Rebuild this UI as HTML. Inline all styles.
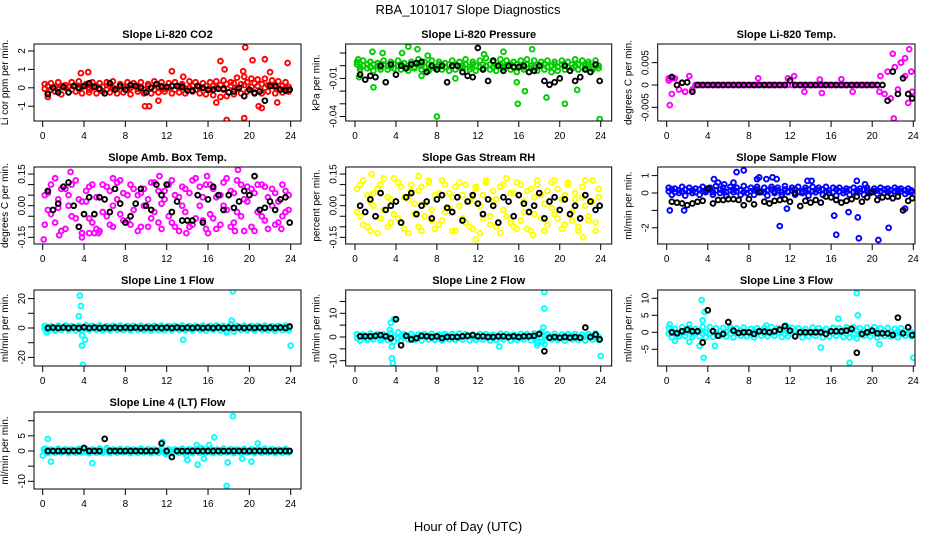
<!DOCTYPE html>
<html><head><meta charset="utf-8"><title>RBA_101017 Slope Diagnostics</title>
<style>
html,body{margin:0;padding:0;background:#fff;}
svg{display:block;font-family:"Liberation Sans",Arial,sans-serif;}
</style></head>
<body>
<svg id="chart" width="936" height="540" viewBox="0 0 936 540" xmlns="http://www.w3.org/2000/svg">
<rect x="0" y="0" width="936" height="540" fill="#fff"/>
<text x="468" y="14" font-size="13" text-anchor="middle">RBA_101017  Slope Diagnostics</text>
<text x="468" y="531" font-size="13" text-anchor="middle">Hour of Day (UTC)</text>
</svg>
<script>
const hoursColor=[0.2,0.5,0.8,1.2,1.5,1.8,2.2,2.5,2.8,3.2,3.5,3.8,4.2,4.5,4.8,5.2,5.5,5.8,6.2,6.5,6.8,7.2,7.5,7.8,8.2,8.5,8.8,9.2,9.5,9.8,10.2,10.5,10.8,11.2,11.5,11.8,12.2,12.5,12.8,13.2,13.5,13.8,14.2,14.5,14.8,15.2,15.5,15.8,16.2,16.5,16.8,17.2,17.5,17.8,18.2,18.5,18.8,19.2,19.5,19.8,20.2,20.5,20.8,21.2,21.5,21.8,22.2,22.5,22.8,23.2,23.5,23.8];
const hoursBlack=[0.5,1,1.5,2,2.5,3,3.5,4,4.5,5,5.5,6,6.5,7,7.5,8,8.5,9,9.5,10,10.5,11,11.5,12,12.5,13,13.5,14,14.5,15,15.5,16,16.5,17,17.5,18,18.5,19,19.5,20,20.5,21,21.5,22,22.5,23,23.5,23.9];
const xTicks=[0,4,8,12,16,20,24];

// Panel 1: CO2
const co2Vals=[0.2,-0.3,0.25,-0.2,0.3,-0.35,0.15,-0.25,0.3,-0.2,0.35,-0.3,0.2,-0.25,0.3,-0.3,0.25,-0.2,0.3,-0.25,0.35,-0.3,0.2,-0.25,0.3,-0.35,0.25,-0.2,0.3,-0.3,0.2,-0.3,0.35,-0.25,0.3,-0.2,0.25,-0.3,0.3,-0.25,0.2,-0.3,0.35,-0.2,0.3,-0.3,0.25,-0.35,0.3,-0.4,0.35,-0.5,0.4,-0.45,0.3,-0.35,0.55,-0.3,0.6,-0.2,0.5,-0.25,0.45,-0.3,0.5,-0.2,0.4,-0.3,0.35,-0.25,0.3,-0.2];
const co2ValsB=[-0.05,0.1,-0.1,0.05,-0.1,0.1,0.0,0.05,-0.1,0.1,-0.05,0.05,0.1,-0.1,0.0,0.1,-0.05,0.05,-0.1,0.1,0.0,-0.05,0.1,0.05,-0.1,0.0,0.1,-0.05,0.05,-0.1,0.1,0.0,-0.1,0.05,0.1,-0.05,0.0,0.1,-0.1,0.05,0.1,-0.05,0.0,0.1,-0.1,0.05,0.0,0.1,-0.1,0.1,0.0,0.15,-0.1,0.2,0.1,0.25,-0.05,0.2,0.15,0.3,0.05,0.25,0.1,0.2,0.0,0.15,0.1,0.05,-0.05,0.1,0.0,0.05];
const co2OutHours=[0.5,3.7,4.4,9.9,10.3,11.2,12.5,13.6,16.8,17.2,17.6,17.8,19.4,19.5,19.6,20.3,20.9,21.2,21.5,22,22.7,23.7];
const co2OutVals=[-0.5,0.8,0.85,-1,-1,-0.7,0.9,0.6,-0.8,1.45,1.0,-1.75,0.9,-1.65,2.2,1.5,-1.0,-1.1,1.55,0.85,-0.8,1.35];
const co2Black=[-0.35,0,-0.25,0.05,-0.25,0.1,0,0.1,0.25,0.05,-0.05,-0.3,0.25,-0.1,0.1,-0.1,0.15,0.1,0,-0.25,0,0.2,0.05,0.05,0.1,0.1,0.05,-0.15,-0.15,0.1,0,-0.1,-0.1,-0.05,-0.05,-0.25,-0.2,0,-0.45,-0.1,-0.3,-0.2,-0.7,0.1,0.1,-0.1,-0.15,-0.1];

// Panel 2: Pressure
const presVals=[0.003,-0.003,0.004,-0.002,0.003,-0.004,0.002,-0.003,0.004,-0.003,0.003,-0.002,0.004,-0.003,0.002,-0.004,0.003,-0.002,0.005,-0.003,0.003,-0.004,0.004,-0.002,0.003,-0.003,0.002,-0.004,0.004,-0.003,0.003,-0.002,0.005,-0.003,0.003,-0.004,0.004,-0.002,0.006,-0.003,0.003,-0.004,0.005,-0.002,0.004,-0.003,0.003,-0.005,0.004,-0.003,0.005,-0.002,0.004,-0.004,0.003,-0.003,0.004,-0.005,0.003,-0.004,0.004,-0.003,0.003,-0.002,0.005,-0.003,0.004,-0.002,0.003,-0.003,0.004,-0.002];
const presValsB=[0.001,-0.001,0.0,0.001,-0.001,0.001,0.0,-0.001,0.001,0.0,-0.001,0.001,0.0,0.001,-0.001,0.0,0.001,-0.001,0.001,0.0,-0.001,0.001,0.0,-0.001,0.001,0.0,-0.001,0.001,0.0,0.001,-0.001,0.0,0.001,-0.001,0.001,0.0,-0.001,0.001,0.0,0.001,-0.001,0.0,0.001,-0.001,0.0,0.001,-0.001,0.001,0.0,-0.001,0.001,0.0,-0.001,0.001,0.0,0.001,-0.001,0.0,0.001,-0.001,0.001,0.0,-0.001,0.001,0.0,0.001,-0.001,0.0,0.001,-0.001,0.001,0.0];
const presOutHours=[0.3,0.4,1.7,1.8,2.7,4.6,5.2,6.1,6.5,7.1,8,9.8,12.6,14.5,15.8,15.9,16.6,17.3,18.7,20.5,21.7,23.9];
const presOutVals=[0.005,-0.009,0.011,-0.017,0.010,0.010,0.015,0.013,-0.008,0.008,-0.040,-0.010,0.009,0.011,-0.013,-0.030,-0.020,0.013,-0.025,-0.030,-0.019,-0.042];
const presBlack=[-0.007,-0.011,-0.008,-0.009,0,-0.013,0.001,-0.007,0,-0.002,0.001,0.002,0.003,-0.005,0,-0.003,0,-0.013,0,0,-0.005,-0.008,-0.009,0.014,-0.003,-0.012,0.004,0,-0.004,0,-0.001,-0.001,0,-0.005,-0.004,0,-0.012,-0.015,-0.013,-0.010,0,-0.004,-0.012,-0.009,-0.003,-0.005,0.001,-0.012];

// Panel 3: Li-820 Temp
const tempVals=[0.001,-0.002,0.0015,-0.001,0.0005,-0.0015,0.002,-0.001,0,0,0,0,0,0,0,0,0,0,0,0,0,0,0,0,0,0,0,0,0,0,0,0,0,0,0,0,0,0,0,0,0,0,0,0,0,0,0,0,0,0,0,0,0,0,0,0,0,0,0,0,0,0,0.002,-0.002,0.003,-0.003,0.004,-0.001,0.005,0.002,-0.004,0.003];
const tempOutHours=[0.2,0.3,0.6,1.8,8.9,11.8,12.4,13.4,14.9,15.1,17,18.1,20.7,22,22.1,22.8,23.2,23.6,23.9];
const tempOutVals=[0.0015,-0.0045,0.0015,-0.0015,0.0015,0.0015,0.002,-0.0015,0.0012,-0.0018,0.0013,-0.0015,-0.0015,0.007,-0.0075,0.005,0.006,0.008,-0.0015];
const tempBlack=[0.0018,0,0.0005,0.0006,-0.0015,0,0,0,0,0,0,0,0,0,0,0,0,0,0,0,0,0,0,0.001,0,0,0,0,0,0,0,0,0,0,0,0,0,0,0,0,0,0,-0.0035,0.003,-0.002,0.0015,-0.002,-0.003];

// Panel 4: Amb Box Temp
const ambVals=[0.05,-0.02,0.1,-0.08,0.03,-0.12,0.08,0.0,-0.05,0.12,-0.1,0.02,0.07,-0.06,0.1,-0.11,0.04,-0.03,0.09,-0.09,0.0,0.11,-0.04,0.06,-0.07,0.1,-0.02,0.05,-0.1,0.08,0.03,-0.06,0.11,-0.08,0.01,0.07,-0.05,0.12,-0.1,0.04,0.09,-0.03,0.06,-0.09,0.13,0.0,-0.07,0.1,-0.04,0.08,-0.11,0.05,0.11,-0.02,0.07,-0.08,0.12,-0.05,0.03,0.09,-0.1,0.06,-0.03,0.1,-0.07,0.04,0.08,-0.09,0.02,-0.05,0.07,-0.02];
const ambValsB=[-0.09,0.06,-0.04,0.13,-0.01,0.08,-0.11,0.05,0.1,-0.06,0.03,-0.13,0.02,0.09,-0.08,0.04,-0.12,0.1,-0.05,0.07,-0.1,0.03,0.12,-0.07,0.05,-0.09,0.08,-0.12,0.06,0.0,-0.1,0.11,-0.03,0.07,-0.11,0.03,0.1,-0.08,0.05,-0.12,0.0,0.08,-0.1,0.12,-0.06,0.09,0.04,-0.11,0.1,-0.06,0.04,-0.09,0.0,0.13,-0.1,0.06,-0.03,0.1,-0.12,0.02,0.08,-0.12,0.1,-0.05,0.09,-0.11,0.0,0.06,-0.08,0.1,-0.03,0.05];
const ambOutHours=[0.1,1.6,2.7,3.8,3.8,4.5,5,5.4,6.8,11.3,13.9,15.9,16,18.6,18.9,23.1];
const ambOutVals=[-0.16,-0.14,0.16,-0.13,-0.15,-0.13,-0.13,-0.13,0.13,0.14,-0.13,0.14,-0.13,-0.12,0.17,-0.11];
const ambBlack=[0.07,-0.02,0.01,0.09,0.11,0.0,-0.1,-0.04,0.04,-0.04,0.04,0.03,-0.03,0.08,0.01,-0.08,-0.05,0.01,0.08,0.0,-0.02,0.1,0.05,0.1,-0.03,0.02,-0.07,-0.07,-0.07,0.05,-0.08,0.03,0.09,0.05,-0.02,0.05,-0.01,0.02,0.07,0.05,0.14,-0.02,-0.01,0.02,-0.02,0.03,0.04,-0.08];

// Panel 5: Gas Stream RH
const rhVals=[0.08,-0.05,0.12,-0.1,0.02,0.06,-0.13,0.1,-0.02,0.04,-0.08,0.13,-0.06,0.09,-0.11,0.03,0.1,-0.04,0.07,-0.12,0.01,0.11,-0.07,0.05,-0.09,0.12,-0.03,0.06,-0.12,0.09,0.0,-0.06,0.1,-0.1,0.04,0.08,-0.13,0.05,0.11,-0.05,0.02,-0.1,0.09,-0.02,0.13,-0.08,0.06,-0.11,0.1,-0.03,0.07,-0.12,0.04,0.12,-0.06,0.01,-0.09,0.11,-0.04,0.08,-0.11,0.05,0.1,-0.07,0.03,-0.12,0.09,0.0,-0.05,0.12,-0.08,0.04];
const rhValsB=[-0.03,0.1,-0.09,0.05,-0.12,0.0,0.08,-0.06,0.13,-0.1,0.03,-0.04,0.11,-0.08,0.04,-0.13,0.07,0.01,-0.1,0.09,-0.05,0.12,-0.02,-0.11,0.06,-0.07,0.1,-0.01,0.04,-0.12,0.11,0.05,-0.08,0.02,-0.11,0.09,0.0,-0.06,0.12,-0.09,0.07,0.03,-0.13,0.1,-0.05,0.06,-0.1,0.11,-0.07,0.02,-0.11,0.08,-0.04,0.1,0.05,-0.12,0.07,-0.01,0.12,-0.06,0.03,-0.09,0.11,-0.03,0.06,-0.1,0.04,0.12,-0.07,0.02,-0.12,0.08];
const rhOutHours=[1.6,6.2,11.8,17.4,22.3];
const rhOutVals=[0.15,0.14,-0.16,-0.14,-0.15];
const rhBlack=[0.0,-0.03,0.03,-0.05,0.06,-0.02,0.0,0.02,-0.08,0.04,0.06,-0.04,0.0,0.02,-0.06,0.03,0.05,-0.01,-0.03,0.04,-0.07,0.02,0.05,0.01,-0.04,0.03,0.0,-0.08,0.04,0.02,-0.05,0.05,0.01,-0.03,0.0,0.06,-0.06,0.02,0.04,-0.02,0.03,-0.04,0.0,-0.06,0.05,0.02,-0.02,0.0];

// Panel 6: Sample Flow
const sfVals=[0.3,-0.1,0.25,0.0,0.35,-0.15,0.3,0.0,0.25,-0.1,0.35,0.05,0.3,-0.1,0.4,0.0,0.3,-0.15,0.35,0.05,0.3,-0.1,0.4,0.0,0.3,-0.1,0.35,0.05,0.3,-0.15,0.35,0.0,0.3,-0.1,0.4,0.05,0.3,-0.1,0.35,0.0,0.3,-0.15,0.35,0.05,0.3,-0.1,0.35,0.0,0.3,-0.15,0.3,0.0,0.25,-0.1,0.3,0.05,0.25,-0.1,0.3,0.0,0.25,-0.05,0.3,0.0,0.25,-0.05,0.3,0.05,0.25,-0.05,0.25,0.05];
const sfValsB=[0.1,0.2,0.05,0.15,0.1,0.2,0.1,0.15,0.05,0.2,0.1,0.15,0.2,0.05,0.15,0.2,0.1,0.05,0.15,0.2,0.1,0.15,0.05,0.2,0.1,0.15,0.2,0.1,0.05,0.15,0.2,0.1,0.15,0.05,0.2,0.1,0.15,0.2,0.05,0.1,0.15,0.2,0.1,0.05,0.15,0.2,0.1,0.15,0.05,0.2,0.1,0.15,0.1,0.2,0.05,0.15,0.1,0.2,0.15,0.05,0.1,0.15,0.1,0.2,0.05,0.15,0.1,0.2,0.1,0.15,0.05,0.15];
const sfOutHours=[0.3,1.7,4.6,5,5.6,6.5,6.8,7.5,8.8,9,9.7,10.3,10.7,11,11.7,13.7,14.1,16.3,16.5,17.7,18.5,18.6,18.7,19.3,20.6,21.6,23.2];
const sfOutVals=[-1,-1,0.8,0.6,0.5,0.6,1.2,1.3,0.8,0.9,0.8,0.9,0.8,-1.9,-0.9,0.7,0.7,-1.3,-2.4,-1.1,0.7,-1.4,-2.6,0.5,-2.7,-2,-0.9];
const sfBlack=[-0.5,-0.55,-0.6,-0.7,-0.6,-0.5,-0.45,0.25,-0.6,-0.4,-0.4,-0.35,-0.35,-0.4,-0.7,-0.35,-0.65,0.05,-0.5,-0.6,-0.45,-0.4,-0.35,-0.5,0.0,-0.75,-0.45,-0.55,-0.4,-0.55,-0.2,-0.25,-0.4,-0.55,-0.45,-0.35,-0.2,-0.5,-0.25,0.05,-0.4,-0.25,-0.2,-0.3,-0.2,-1.0,-0.45,-0.3];

// Panel 7: Line 1 Flow
const l1Vals=[1.5,-1.5,1.2,-1.8,1.6,-1.2,1.8,-1.5,1.3,-1.6,1.5,-2,2,-1.4,1.5,-1.2,1.6,-1.5,1.2,-1.6,1.5,-1.3,1.7,-1.5,1.4,-1.6,1.5,-1.2,1.6,-1.5,1.3,-1.7,1.5,-1.4,1.6,-1.5,1.2,-1.6,1.5,-1.3,1.8,-1.5,1.4,-1.6,1.5,-1.2,1.6,-1.8,1.5,-1.3,1.7,-1.5,1.4,-2,2.5,-2.5,1.5,-1.3,1.6,-1.5,1.4,-1.6,1.5,-1.2,1.6,-1.5,1.3,-1.7,1.5,-1.4,1.6,-1.5];
const l1ValsB=[-0.5,0.5,0,-0.5,0.5,0,0.5,-0.5,0,0.5,-0.5,0,-0.5,0.5,0,0.5,-0.5,0,-0.5,0.5,0,0.5,-0.5,0,-0.5,0.5,0,0.5,-0.5,0,-0.5,0.5,0,0.5,-0.5,0,-0.5,0.5,0,0.5,-0.5,0,-0.5,0.5,0,0.5,-0.5,0,-0.5,0.5,0,0.5,-0.5,0,-0.5,0.5,0,0.5,-0.5,0,-0.5,0.5,0,0.5,-0.5,0,-0.5,0.5,0,0.5,-0.5,0];
const l1OutHours=[0.4,3.5,3.6,3.7,3.8,3.8,3.9,4.1,13.6,17.8,18.3,18.4,24];
const l1OutVals=[-3,8,22,15,-12,-5,-25,-8,-8,-3,5,25,-12];
const l1Black=[0,0.3,0,0.3,0,0.3,0,0.5,0,0.3,0,0.3,0,0.3,0,0.3,0,0.3,0,0.3,0,0.3,0,0.3,0,0.3,0,0.3,0,0.3,0,0.3,0,0.3,0,0.3,0,0.3,0,0.3,0,0.3,0,0.3,0,0.3,0,1];

// Panel 8: Line 2 Flow
const l2Vals=[1.2,-1.5,1,-1.2,1.5,-1,1.2,-1.4,1,-1.2,1.6,-2,2,-1.5,1.2,-1,1.3,-1.2,1,-1.5,1.2,-1,1.4,-1.2,1,-1.5,1.2,-1,1.3,-1.2,1.5,-1,1.2,-1.4,1,-1.2,1.3,-1,1.2,-1.5,1,-1.2,1.4,-1,1.2,-1.5,1,-1.2,1.3,-1,1.2,-1.4,1.5,-2.5,2,-3,1.2,-1,1.4,-1.2,1,-1.5,1.2,-1,1.3,-1.2,1,-1.5,1.2,-1,1.5,-1.2];
const l2ValsB=[-0.4,0.4,0,-0.4,0.4,0,0.4,-0.4,0,0.4,-0.4,0,-0.4,0.4,0,0.4,-0.4,0,-0.4,0.4,0,0.4,-0.4,0,-0.4,0.4,0,0.4,-0.4,0,-0.4,0.4,0,0.4,-0.4,0,-0.4,0.4,0,0.4,-0.4,0,-0.4,0.4,0,0.4,-0.4,0,-0.4,0.4,0,0.4,-0.4,0,-0.4,0.4,0,0.4,-0.4,0,-0.4,0.4,0,0.4,-0.4,0,-0.4,0.4,0,0.4,-0.4,0];
const l2OutHours=[3.4,3.5,3.6,3.6,3.7,3.8,14.1,17.8,18.3,18.4,18.5,18.5,24];
const l2OutVals=[3,6,-9,-4,-11,7.5,-4,-3.5,-2,4,12,19,-8];
const l2Black=[0.3,0.3,0.3,0.5,0.8,0.3,-0.5,7.5,-3.5,0.5,-1,-0.5,0.5,0.3,0,0.3,-0.5,0,0,0,0.3,0.5,0.8,0.3,0.3,0,0,0.3,0.3,0,0.3,0,0.3,0.3,0.5,1.3,-6,-0.3,0,-0.3,0,-0.3,0,-0.3,4,0,1,-1];

// Panel 9: Line 3 Flow
const l3Vals=[1.3,-1.5,1,-1.2,1.5,-1,1.2,-1.4,1,-1.2,1.6,-1.5,1.5,-1.3,1.2,-1,1.3,-1.2,1,-1.5,1.2,-1,1.4,-1.2,1,-1.5,1.2,-1,1.3,-1.2,1.5,-1,1.2,-1.4,1,-1.2,1.3,-1,1.2,-1.5,1,-1.2,1.4,-1,1.2,-1.5,1,-1.2,1.3,-1,1.2,-1.4,1.5,-1.5,1.5,-1.8,1.2,-1,1.4,-1.2,1.5,-1.5,1.2,-1,1.3,-1.2,1,-1.5,1.2,-1,1.5,-1.2];
const l3ValsB=[-0.4,0.4,0,-0.4,0.4,0,0.4,-0.4,0,0.4,-0.4,0,-0.4,0.4,0,0.4,-0.4,0,-0.4,0.4,0,0.4,-0.4,0,-0.4,0.4,0,0.4,-0.4,0,-0.4,0.4,0,0.4,-0.4,0,-0.4,0.4,0,0.4,-0.4,0,-0.4,0.4,0,0.4,-0.4,0,-0.4,0.4,0,0.4,-0.4,0,-0.4,0.4,0,0.4,-0.4,0,-0.4,0.4,0,0.4,-0.4,0,-0.4,0.4,0,0.4,-0.4,0];
const l3OutHours=[0.3,0.8,2.2,2.2,3.2,3.4,3.5,3.6,3.7,4.7,6.2,9.7,11.6,15,16.7,17.8,18.5,18.6,20.7,24];
const l3OutVals=[2.3,-2.5,2.3,-2.8,-4,9.5,3.5,-7.5,6,-4,1.5,2,2,-4.5,4,-9,11.5,5,-3.5,-7.5];
const l3Black=[0,-0.3,0.3,0.8,0.3,0.3,-3,6.5,0.3,-1,-0.5,3,0.5,-0.2,0,0,-0.5,0.3,0.2,0,0.3,0.8,1.8,0.5,-1.2,0,0,0,0,0,-0.5,0.3,0.3,0.3,0.5,1,-6,-0.5,0,0.5,-0.3,-0.3,-0.3,-0.8,4.3,-0.3,1.5,-0.8];

// Panel 10: Line 4 (LT) Flow
const l4Vals=[0.7,-0.7,0.5,-0.6,0.8,-0.5,0.6,-0.7,0.5,-0.6,0.7,-0.5,0.6,-0.7,0.5,-0.6,0.8,-0.5,0.6,-0.7,0.5,-0.6,0.7,-0.5,0.6,-0.7,0.5,-0.6,0.8,-0.5,0.6,-0.7,0.5,-0.6,0.7,-0.5,0.6,-0.7,0.5,-0.6,0.8,-0.5,0.6,-0.7,0.5,-0.6,0.7,-0.5,0.6,-0.7,0.5,-0.6,0.8,-0.5,0.6,-0.7,0.5,-0.6,0.7,-0.5,0.6,-0.7,0.5,-0.6,0.8,-0.5,0.6,-0.7,0.5,-0.6,0.7,-0.5];
const l4ValsB=[-0.2,0.2,0,-0.2,0.2,0,0.2,-0.2,0,0.2,-0.2,0,-0.2,0.2,0,0.2,-0.2,0,-0.2,0.2,0,0.2,-0.2,0,-0.2,0.2,0,0.2,-0.2,0,-0.2,0.2,0,0.2,-0.2,0,-0.2,0.2,0,0.2,-0.2,0,-0.2,0.2,0,0.2,-0.2,0,-0.2,0.2,0,0.2,-0.2,0,-0.2,0.2,0,0.2,-0.2,0,-0.2,0.2,0,0.2,-0.2,0,-0.2,0.2,0,0.2,-0.2,0];
const l4OutHours=[0,0.1,0.5,0.8,4.8,6.2,11.6,11.9,13.9,14,14.9,15,15.3,15.6,16.1,16.6,17.8,17.9,18.4,19.3,20.2,20.8];
const l4OutVals=[-1.5,0.5,4,-3.5,-4,1,3,-1,-1.5,-3,2,-4.5,1,-2.5,2,4.5,-11.5,-3.8,11.5,-2.5,-3.5,2.5];
const l4Black=[0,0,0,0,0,0,0,1,0,0,0,4,0,0,0,0,0,0,0,0,0,0,2.5,0,-2,0,0,0,0,0,0,0,0,0,0,0,0,0,0,0,0,0,0,0,0,0,0,0];

const cols=[{l:34,r:301,x0:42.7,x24:290.7},{l:345.7,r:611.7,x0:355,x24:600.7},{l:657.7,r:915,x0:666.7,x24:913.3}];
const rows=[{t:44,b:121},{t:167,b:244},{t:290,b:366},{t:412,b:489}];

const panels=[
 {name:'co2',title:'Slope Li-820 CO2',ylab:'Li cor ppm per min.',color:'#ff0000',col:0,row:0,zero:87.8,ppu:18.4,ticks:[-1,0,1,2],labels:['-1','0','1','2'],vals:co2Vals,valsB:co2ValsB,oh:co2OutHours,ov:co2OutVals,bk:co2Black},
 {name:'pressure',title:'Slope Li-820 Pressure',ylab:'kPa per min.',color:'#00cd00',col:1,row:0,zero:65.7,ppu:1270,ticks:[0.01,0,-0.01,-0.02,-0.03,-0.04],labels:['','','-0.01','','','-0.04'],vals:presVals,valsB:presValsB,oh:presOutHours,ov:presOutVals,bk:presBlack},
 {name:'li820-temp',title:'Slope Li-820 Temp.',ylab:'degrees C per min.',color:'#ff00ff',col:2,row:0,zero:85,ppu:4470,ticks:[0.005,0,-0.005],labels:['0.005','0','-0.005'],vals:tempVals,valsB:null,oh:tempOutHours,ov:tempOutVals,bk:tempBlack},
 {name:'amb-box-temp',title:'Slope Amb. Box Temp.',ylab:'degrees C per min.',color:'#ff00ff',col:0,row:1,zero:205.7,ppu:211,ticks:[0.15,0.1,0.05,0,-0.05,-0.1,-0.15],labels:['0.15','','','0.00','','','-0.15'],vals:ambVals,valsB:ambValsB,oh:ambOutHours,ov:ambOutVals,bk:ambBlack},
 {name:'gas-stream-rh',title:'Slope Gas Stream RH',ylab:'percent per min.',color:'#ffff00',col:1,row:1,zero:205.7,ppu:211,ticks:[0.15,0.1,0.05,0,-0.05,-0.1,-0.15],labels:['0.15','','','0.00','','','-0.15'],vals:rhVals,valsB:rhValsB,oh:rhOutHours,ov:rhOutVals,bk:rhBlack},
 {name:'sample-flow',title:'Slope Sample Flow',ylab:'ml/min per min.',color:'#0000ff',col:2,row:1,zero:193,ppu:17.4,ticks:[1,0,-1,-2],labels:['1','0','','-2'],vals:sfVals,valsB:sfValsB,oh:sfOutHours,ov:sfOutVals,bk:sfBlack},
 {name:'line1-flow',title:'Slope Line 1 Flow',ylab:'ml/min per min.',color:'#00ffff',col:0,row:2,zero:328,ppu:1.47,ticks:[20,10,0,-10,-20],labels:['20','','0','','-20'],vals:l1Vals,valsB:l1ValsB,oh:l1OutHours,ov:l1OutVals,bk:l1Black},
 {name:'line2-flow',title:'Slope Line 2 Flow',ylab:'ml/min per min.',color:'#00ffff',col:1,row:2,zero:337,ppu:2.37,ticks:[15,10,5,0,-5,-10],labels:['','10','','0','','-10'],vals:l2Vals,valsB:l2ValsB,oh:l2OutHours,ov:l2OutVals,bk:l2Black},
 {name:'line3-flow',title:'Slope Line 3 Flow',ylab:'ml/min per min.',color:'#00ffff',col:2,row:2,zero:332.3,ppu:3.4,ticks:[10,5,0,-5],labels:['10','5','0','-5'],vals:l3Vals,valsB:l3ValsB,oh:l3OutHours,ov:l3OutVals,bk:l3Black},
 {name:'line4-flow',title:'Slope Line 4 (LT) Flow',ylab:'ml/min per min.',color:'#00ffff',col:0,row:3,zero:451,ppu:3.03,ticks:[10,5,0,-5,-10],labels:['','5','0','','-10'],vals:l4Vals,valsB:l4ValsB,oh:l4OutHours,ov:l4OutVals,bk:l4Black}
];

const NS='http://www.w3.org/2000/svg';
const svg=document.getElementById('chart');
function mk(tag,attrs,parent){const e=document.createElementNS(NS,tag);for(const k in attrs)e.setAttribute(k,attrs[k]);parent.appendChild(e);return e;}

panels.forEach(p=>{
  const c=cols[p.col], r=rows[p.row];
  const xs=h=>c.x0+(c.x24-c.x0)*h/24;
  const ys=v=>p.zero-v*p.ppu;
  const g=mk('g',{},svg);
  
  
  const cp=mk('clipPath',{id:'cp-'+p.name},g);
  mk('rect',{x:c.l,y:r.t,width:c.r-c.l,height:r.b-r.t},cp);
  const t=mk('text',{x:(c.l+c.r)/2,y:r.t-6,'font-size':11,'font-weight':'bold','text-anchor':'middle'},g);
  t.textContent=p.title;
  
  
  const yl=mk('text',{x:0,y:0,'font-size':10,'text-anchor':'middle',transform:'translate('+(c.l-26)+','+((r.t+r.b)/2)+') rotate(-90)'},g);
  yl.textContent=p.ylab;
  
  
  xTicks.forEach(h=>{
    const x=xs(h);
    const tk=mk('line',{x1:x,x2:x,y1:r.b,y2:r.b+6,stroke:'#000','stroke-width':1},g);
    
    
    const tl=mk('text',{x:x,y:r.b+18,'font-size':10,'text-anchor':'middle'},g);
    tl.textContent=String(h);
    
    
  });
  p.ticks.forEach((v,i)=>{
    const y=ys(v);
    const tk=mk('line',{x1:c.l-6,x2:c.l,y1:y,y2:y,stroke:'#000','stroke-width':1},g);
    
    
    if(p.labels[i]){
      const tl=mk('text',{x:0,y:0,'font-size':10,'text-anchor':'middle',transform:'translate('+(c.l-9)+','+y+') rotate(-90)'},g);
      tl.textContent=p.labels[i];
      
      
    }
  });
  const pts=mk('g',{'clip-path':'url(#cp-'+p.name+')',fill:'none','stroke-width':1.9},g);
  
  
  const dot=(h,v,col,nm)=>{
    const e=mk('circle',{cx:xs(h),cy:ys(v),r:2.4,stroke:col},pts);
    
    
  };
  p.vals.forEach((v,i)=>dot(hoursColor[i],v,p.color,'slope-point'));
  if(p.valsB) p.valsB.forEach((v,i)=>dot(hoursColor[i],v,p.color,'slope-point'));
  p.oh.forEach((h,i)=>dot(h,p.ov[i],p.color,'slope-outlier-point'));
  p.bk.forEach((v,i)=>dot(hoursBlack[i],v,'#000','calibration-point'));
  const box=mk('rect',{x:c.l,y:r.t,width:c.r-c.l,height:r.b-r.t,fill:'none',stroke:'#000','stroke-width':1},g);
  
  
});
</script>
</body></html>
